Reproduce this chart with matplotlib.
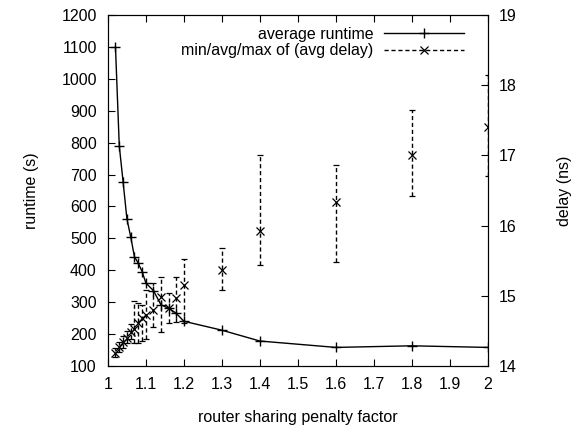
import numpy as np
import matplotlib
matplotlib.use("Agg")
import matplotlib.pyplot as plt
from matplotlib.lines import Line2D

plt.rcParams['font.family'] = ['Liberation Sans', 'DejaVu Sans']
plt.rcParams['font.size'] = 11.5

# router sharing penalty factor
factor = [1.02, 1.03, 1.04, 1.05, 1.06, 1.07, 1.08, 1.09, 1.10, 1.12,
          1.14, 1.16, 1.18, 1.20, 1.3, 1.4, 1.6, 1.8, 2.0]

# average runtime (s)
runtime = [1100, 790, 678, 562, 505, 442, 422, 396, 360, 336,
           291, 281, 265, 240, 212, 178, 158, 163, 158]

# delay (ns): min / avg / max
delay_avg = [14.18, 14.27, 14.34, 14.40, 14.48, 14.53, 14.61, 14.68, 14.72, 14.80,
             14.98, 14.82, 14.97, 15.15, 15.37, 15.93, 16.33, 17.00, 17.40]
delay_min = [14.12, 14.20, 14.26, 14.32, 14.38, 14.32, 14.32, 14.35, 14.38, 14.56,
             14.49, 14.61, 14.63, 14.61, 15.08, 15.44, 15.48, 16.42, 16.70]
delay_max = [14.25, 14.34, 14.42, 14.50, 14.60, 14.93, 14.89, 14.87, 15.08, 15.18,
             15.27, 15.04, 15.27, 15.53, 15.68, 17.00, 16.86, 17.65, 18.15]

fig = plt.figure(figsize=(5.8, 4.32), dpi=100)
ax = fig.add_axes([0.186, 0.153, 0.655, 0.812])
ax2 = ax.twinx()

# runtime curve
l1, = ax.plot(factor, runtime, color='black', lw=1, marker='+', ms=7, mew=1,
              label='average runtime')

# delay with error bars (dashed)
d = np.array(delay_avg)
yerr = [d - np.array(delay_min), np.array(delay_max) - d]
eb = ax2.errorbar(factor, delay_avg, yerr=yerr, fmt='x', color='black', ms=5.5, mew=0.9,
                  ecolor='black', elinewidth=1, capsize=2, capthick=1)
for lc in eb[2]:
    lc.set_linestyle((0, (3, 2)))

ax.set_xlim(1, 2)
ax.set_ylim(100, 1200)
ax2.set_ylim(14, 19)
ax.set_xticks(np.arange(1.0, 2.01, 0.1))
ax.set_xticklabels(['1', '1.1', '1.2', '1.3', '1.4', '1.5', '1.6', '1.7', '1.8', '1.9', '2'])
ax.set_yticks(np.arange(100, 1201, 100))
ax2.set_yticks(np.arange(14, 20, 1))

ax.tick_params(axis='x', direction='in', length=5, top=True, pad=8)
ax.tick_params(axis='y', direction='in', length=5, right=False, pad=8)
ax2.tick_params(axis='y', direction='in', length=5, pad=8)

ax.set_xlabel('router sharing penalty factor', labelpad=13)
ax.set_ylabel('runtime (s)', labelpad=16)
ax2.set_ylabel('delay (ns)', labelpad=29)

# legend in gnuplot style: text on the left, sample on the right
h2 = Line2D([], [], color='black', lw=1, ls=(0, (3, 2)), marker='x', ms=5.5, mew=0.9)
leg = ax2.legend([l1, h2], ['average runtime', 'min/avg/max of (avg delay)'],
                 loc='upper right', frameon=False, markerfirst=False,
                 handlelength=5.0, handletextpad=0.7, borderaxespad=0.0,
                 bbox_to_anchor=(0.955, 0.985), labelspacing=0.1)
for t in leg.get_texts():
    t.set_ha('right')

fig.savefig('out.png', dpi=100)
